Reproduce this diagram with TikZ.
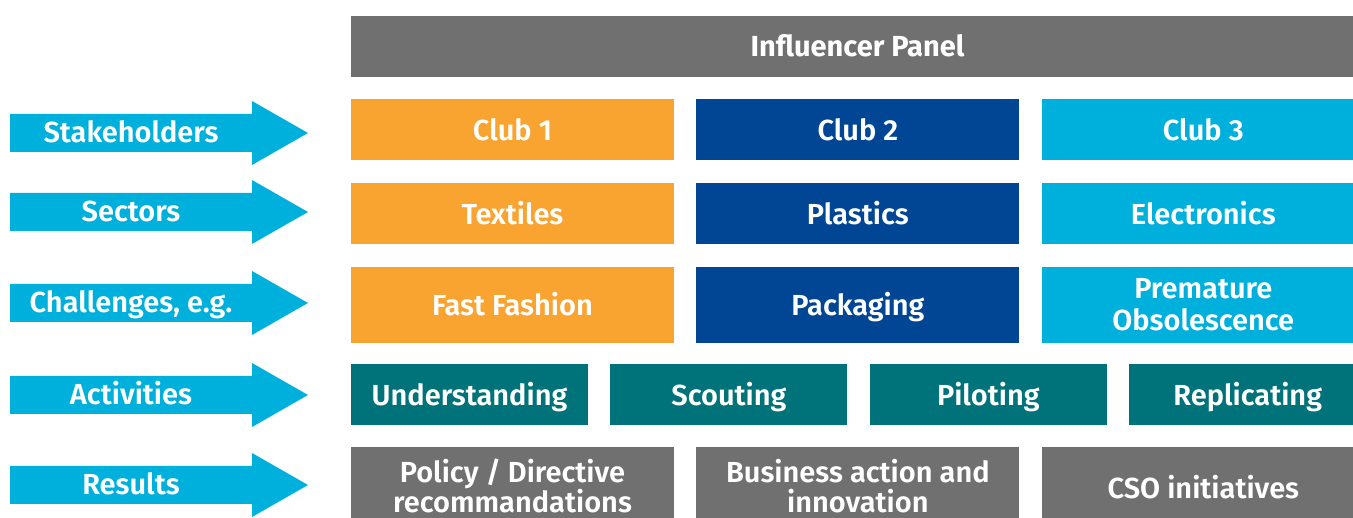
\documentclass[tikz,border=0pt]{standalone}
\usepackage{fontspec}
\setmainfont{Fira Sans SemiBold}
\newfontfamily\panelfont{Fira Sans Bold}
\usetikzlibrary{positioning}
\definecolor{panelgray}{HTML}{707070}
\definecolor{cluborange}{HTML}{F9A330}
\definecolor{clubdark}{HTML}{004694}
\definecolor{clublight}{HTML}{00B0DC}
\definecolor{actteal}{HTML}{00737A}
\begin{document}
\begin{tikzpicture}[x=1pt,y=-1pt,
            node distance = 22pt,
            box/.style = {minimum width=323pt,minimum height=61pt,inner sep=0pt,
                text=white,align=center,text height=22pt,text depth=0pt,
                font=\fontsize{29}{32}\selectfont},
            tall/.style = {minimum height=76pt},
            twoline/.style = {text height=52pt},
            actbox/.style = {box,fill=actteal,minimum width=237pt},
            resbox/.style = {box,fill=panelgray,minimum height=80pt,text height=23pt,
                font=\fontsize{29}{30}\selectfont},
            rowtext/.style = {text=white,inner sep=0pt,text height=20pt,text depth=0pt,
                font=\fontsize{29}{32}\selectfont}]
            \useasboundingbox (0,0) rectangle (1353,518);
            \clip (0,0) rectangle (1353,518);
            % row arrows on the left
            \foreach \name/\yc/\txt in {stake/133/{Stakeholders},sect/212/{Sectors},
                    chal/303/{Challenges, e.g.},acti/395/{Activities},resu/485/{Results}} {
                \fill[clublight] (10,\yc-19) -- (252,\yc-19) -- (252,\yc-32) -- (308,\yc)
                    -- (252,\yc+32) -- (252,\yc+19) -- (10,\yc+19) -- cycle;
                \node[rowtext] (\name) at (131,\yc) {\txt};
            }
            \node[box,fill=panelgray,minimum width=1013pt,text height=20pt,
                font=\fontsize{29}{32}\panelfont] (panel) at (857.5,46.5) {Influencer Panel};
            % clubs
            \node[box,fill=cluborange] (club1) at (512.5,129.5) {Club 1};
            \node[box,fill=clubdark,right=of club1] (club2) {Club 2};
            \node[box,fill=clublight,right=of club2] (club3) {Club 3};
            % sectors
            \node[box,fill=cluborange,below=23pt of club1] (sec1) {Textiles};
            \node[box,fill=clubdark,below=23pt of club2] (sec2) {Plastics};
            \node[box,fill=clublight,below=23pt of club3] (sec3) {Electronics};
            % challenges
            \node[box,tall,fill=cluborange,below=22pt of sec1] (chal1) {Fast Fashion};
            \node[box,tall,fill=clubdark,below=22pt of sec2] (chal2) {Packaging};
            \node[box,tall,twoline,fill=clublight,below=22pt of sec3] (chal3) {Premature\\Obsolescence};
            % activities
            \node[actbox] (act1) at (469.5,394.5) {Understanding};
            \node[actbox,right=of act1] (act2) {Scouting};
            \node[actbox,right=of act2] (act3) {Piloting};
            \node[actbox,right=of act3] (act4) {Replicating};
            % results
            \node[resbox,text height=50pt] (res1) at (512.5,487) {Policy / Directive\\recommandations};
            \node[resbox,text height=50pt,right=of res1] (res2) {Business action and\\innovation};
            \node[resbox,right=of res2] (res3) {CSO initiatives};
        \end{tikzpicture}
\end{document}
